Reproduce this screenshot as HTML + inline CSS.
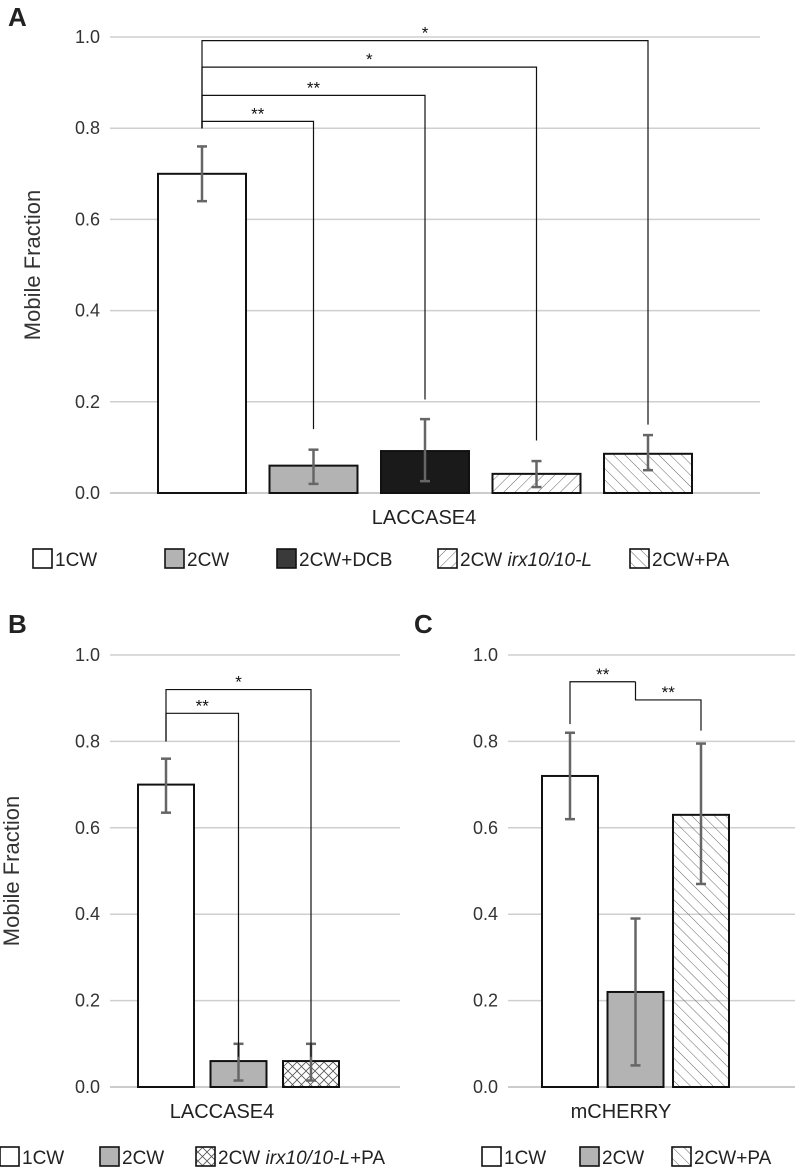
<!DOCTYPE html>
<html><head><meta charset="utf-8">
<style>
html,body{margin:0;padding:0;background:#fff;}
svg{display:block;font-family:"Liberation Sans",Arial,sans-serif;}
</style></head>
<body>
<svg id="chart" width="796" height="1174" viewBox="0 0 796 1174" xmlns="http://www.w3.org/2000/svg">
<defs>
<pattern id="hatchF" patternUnits="userSpaceOnUse" width="8" height="8" patternTransform="rotate(45)"><line x1="0" y1="0" x2="0" y2="8" stroke="#555" stroke-width="0.9"/></pattern>
<pattern id="hatchB" patternUnits="userSpaceOnUse" width="8" height="8" patternTransform="rotate(-45)"><line x1="0" y1="0" x2="0" y2="8" stroke="#555" stroke-width="0.9"/></pattern>
<pattern id="hatchX" patternUnits="userSpaceOnUse" width="9" height="9"><path d="M0,0 L9,9 M9,0 L0,9" stroke="#555" stroke-width="0.8"/></pattern>
</defs>
</svg>
<script>
// Panel A data
const catsA = ["1CW","2CW","2CW+DCB","2CW irx10/10-L","2CW+PA"];
const valsA = [0.70,0.06,0.092,0.042,0.086];
const errHiA = [0.76,0.095,0.162,0.07,0.127];
const errLoA = [0.64,0.02,0.026,0.013,0.05];
// Panel B data
const catsB = ["1CW","2CW","2CW irx10/10-L+PA"];
const valsB = [0.70,0.06,0.06];
const errHiB = [0.76,0.10,0.10];
const errLoB = [0.635,0.015,0.015];
// Panel C data
const catsC = ["1CW","2CW","2CW+PA"];
const valsC = [0.72,0.22,0.63];
const errHiC = [0.82,0.39,0.795];
const errLoC = [0.62,0.05,0.47];
const ticks = [0,0.2,0.4,0.6,0.8,1.0];
const tickLabels = ["0.0","0.2","0.4","0.6","0.8","1.0"];

const svg = document.getElementById('chart');
const NS = "http://www.w3.org/2000/svg";
function mk(tag, attrs, parent){
  const e = document.createElementNS(NS, tag);
  for (const k in attrs) e.setAttribute(k, attrs[k]);
  (parent||svg).appendChild(e);
  return e;
}
const fills = {"1CW":"#fff","2CW":"#b3b3b3","2CW+DCB":"#1a1a1a","2CW irx10/10-L":"url(#hatchF)","2CW+PA":"url(#hatchB)","2CW irx10/10-L+PA":"url(#hatchX)"};
const legFills = Object.assign({}, fills, {"2CW+DCB":"#3a3a3a"});

function panel(id, cfg){
  const g = mk('g', {});
  
  
  const y = v => cfg.y0 - v*(cfg.y0-cfg.y1);
  const x = i => cfg.bx0 + i*cfg.step;
  ticks.forEach((t,i)=>{
    if (t>0){
      const gl = mk('line',{x1:cfg.px0,x2:cfg.px1,y1:y(t),y2:y(t),stroke:'#cfcfcf','stroke-width':1.5},g);
      
      
    }
    const tl = mk('text',{x:cfg.tx,y:y(t)+6,'text-anchor':'end','font-size':18,fill:'#333'},g);
    tl.textContent = tickLabels[i];
    
    
  });
  const ax = mk('line',{x1:cfg.px0,x2:cfg.px1,y1:cfg.y0,y2:cfg.y0,stroke:'#bbb','stroke-width':1.5},g);
  
  
  cfg.cats.forEach((c,i)=>{
    const v = cfg.vals[i];
    const b = mk('rect',{x:x(i),y:y(v),width:cfg.bw,height:cfg.y0-y(v),fill:fills[c],stroke:'#111','stroke-width':2},g);
    
    
    const cx = x(i)+cfg.bw/2;
    const eg = mk('g',{stroke:'#666','stroke-width':2.5},g);
    
    
    mk('line',{x1:cx,x2:cx,y1:y(cfg.hi[i]),y2:y(cfg.lo[i])},eg);
    mk('line',{x1:cx-5,x2:cx+5,y1:y(cfg.hi[i]),y2:y(cfg.hi[i])},eg);
    mk('line',{x1:cx-5,x2:cx+5,y1:y(cfg.lo[i]),y2:y(cfg.lo[i])},eg);
  });
  cfg.brackets.forEach(br=>{
    const ax1 = x(br.from)+cfg.bw/2, ax2 = x(br.to)+cfg.bw/2;
    const by = y(br.level);
    const p = mk('path',{d:`M${ax1},${y(br.startV)} L${ax1},${by} L${ax2},${by} L${ax2},${y(br.endV)}`,fill:'none',stroke:'#111','stroke-width':1.2},g);
    
    
    const s = mk('text',{x:(ax1+ax2)/2,y:by-2,'text-anchor':'middle','font-size':17,fill:'#111'},g);
    s.textContent = br.label;
    
    
  });
  const xl = mk('text',{x:cfg.xlx,y:cfg.y0+31,'text-anchor':'middle','font-size':20,fill:'#222'},g);
  xl.textContent = cfg.xlabel;
  
  
  cfg.legend.forEach(l=>{
    const lr = mk('rect',{x:l.x,y:cfg.ly-10,width:19,height:19,fill:legFills[l.c],stroke:'#111','stroke-width':1.6},g);
    
    
    const lt = mk('text',{x:l.x+22,y:cfg.ly+7,'font-size':19,fill:'#222'},g);
    
    
    if (l.c.indexOf('irx')>=0){
      const t1 = mk('tspan',{},lt); t1.textContent='2CW ';
      const t2 = mk('tspan',{'font-style':'italic'},lt); t2.textContent='irx10/10-L';
      if (l.c.endsWith('+PA')){ const t3 = mk('tspan',{},lt); t3.textContent='+PA'; }
    } else lt.textContent = l.c;
  });
  const pl = mk('text',{x:cfg.letterX,y:cfg.letterY,'font-size':26,'font-weight':'bold',fill:'#222'},g);
  pl.textContent = cfg.letter;
  
  
  if (cfg.ytitle){
    const yt = mk('text',{x:0,y:0,transform:`translate(${cfg.ytx},${(cfg.y0+cfg.y1)/2}) rotate(-90)`,'text-anchor':'middle','font-size':22,fill:'#333'},g);
    yt.textContent='Mobile Fraction';
    
    
  }
}

panel('a',{cats:catsA,vals:valsA,hi:errHiA,lo:errLoA,y0:493,y1:37,px0:110,px1:760,tx:100,bx0:158,step:111.5,bw:88,
  brackets:[{from:0,to:4,level:0.992,startV:0.80,endV:0.15,label:'*'},
            {from:0,to:3,level:0.934,startV:0.80,endV:0.115,label:'*'},
            {from:0,to:2,level:0.872,startV:0.80,endV:0.205,label:'**'},
            {from:0,to:1,level:0.815,startV:0.80,endV:0.14,label:'**'}],
  xlabel:'LACCASE4',xlx:424,ly:559,
  legend:[{x:33,c:'1CW'},{x:165,c:'2CW'},{x:277,c:'2CW+DCB'},{x:438,c:'2CW irx10/10-L'},{x:630,c:'2CW+PA'}],
  letter:'A',letterX:8,letterY:26,ytitle:true,ytx:40});
panel('b',{cats:catsB,vals:valsB,hi:errHiB,lo:errLoB,y0:1087,y1:655,px0:110,px1:400,tx:100,bx0:138,step:72.5,bw:56,
  brackets:[{from:0,to:2,level:0.92,startV:0.80,endV:0.07,label:'*'},
            {from:0,to:1,level:0.865,startV:0.80,endV:0.07,label:'**'}],
  xlabel:'LACCASE4',xlx:222,ly:1157,
  legend:[{x:0,c:'1CW'},{x:100,c:'2CW'},{x:196,c:'2CW irx10/10-L+PA'}],
  letter:'B',letterX:8,letterY:633,ytitle:true,ytx:19});
panel('c',{cats:catsC,vals:valsC,hi:errHiC,lo:errLoC,y0:1087,y1:655,px0:508,px1:795,tx:498,bx0:542,step:65.5,bw:56,
  brackets:[{from:0,to:1,level:0.938,startV:0.84,endV:0.938},
            {from:1,to:2,level:0.896,startV:0.938,endV:0.825}].map(b=>Object.assign(b,{label:'**'})),
  xlabel:'mCHERRY',xlx:621,ly:1157,
  legend:[{x:482,c:'1CW'},{x:580,c:'2CW'},{x:672,c:'2CW+PA'}],
  letter:'C',letterX:414,letterY:633,ytitle:false});
</script>
</body></html>
